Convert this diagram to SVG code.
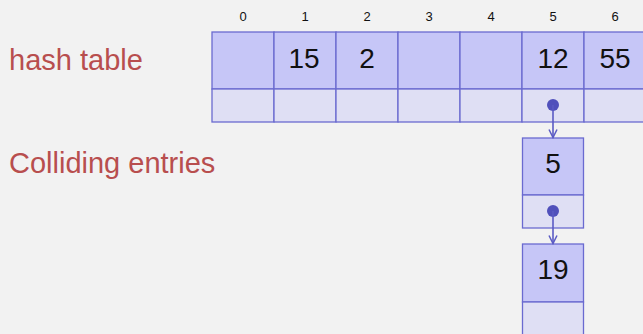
<svg xmlns="http://www.w3.org/2000/svg" width="643" height="334" viewBox="0 0 643 334">
<defs>
<style>
.top{fill:#c6c6f7;stroke:#6a6ad0;stroke-width:1.3}
.bot{fill:#dfdff4;stroke:#6a6ad0;stroke-width:1.3}
.num{font-family:"Liberation Sans",Arial,sans-serif;font-size:28px;fill:#111;text-anchor:middle}
.idx{font-family:"Liberation Sans",Arial,sans-serif;font-size:13px;fill:#111;text-anchor:middle}
.lbl{font-family:"Liberation Sans",Arial,sans-serif;font-size:29px;fill:#b84e4e}
.dot{fill:#5050bb}
.con{stroke:#5a5ac4;stroke-width:1.6;fill:none}
</style>
<marker id="arr" viewBox="0 0 10 10" refX="9" refY="5" markerWidth="10" markerHeight="10" markerUnits="userSpaceOnUse" orient="auto">
<path d="M1,1 L9,5 L1,9" fill="none" stroke="#5a5ac4" stroke-width="1.5"/>
</marker>
</defs>
<rect width="643" height="334" fill="#f2f2f2"/>
<text class="lbl" x="9" y="70">hash table</text>
<text class="lbl" x="9" y="173">Colliding entries</text>
<g id="indices">
<text class="idx" x="243" y="21">0</text>
<text class="idx" x="305" y="21">1</text>
<text class="idx" x="367" y="21">2</text>
<text class="idx" x="429" y="21">3</text>
<text class="idx" x="491" y="21">4</text>
<text class="idx" x="553" y="21">5</text>
<text class="idx" x="615" y="21">6</text>
</g>
<g id="slot0"><rect class="top" x="212" y="32" width="62" height="57"/><rect class="bot" x="212" y="89" width="62" height="33"/></g>
<g id="slot1"><rect class="top" x="274" y="32" width="62" height="57"/><rect class="bot" x="274" y="89" width="62" height="33"/><text class="num" x="304" y="68">15</text></g>
<g id="slot2"><rect class="top" x="336" y="32" width="62" height="57"/><rect class="bot" x="336" y="89" width="62" height="33"/><text class="num" x="367" y="68">2</text></g>
<g id="slot3"><rect class="top" x="398" y="32" width="62" height="57"/><rect class="bot" x="398" y="89" width="62" height="33"/></g>
<g id="slot4"><rect class="top" x="460" y="32" width="62" height="57"/><rect class="bot" x="460" y="89" width="62" height="33"/></g>
<g id="slot5"><rect class="top" x="522" y="32" width="62" height="57"/><rect class="bot" x="522" y="89" width="62" height="33"/><text class="num" x="553" y="68">12</text><circle class="dot" cx="553" cy="105" r="6"/></g>
<g id="slot6"><rect class="top" x="584" y="32" width="62" height="57"/><rect class="bot" x="584" y="89" width="62" height="33"/><text class="num" x="615" y="68">55</text></g>
<g id="entry5"><rect class="top" x="522.5" y="138" width="61" height="57"/><rect class="bot" x="522.5" y="195" width="61" height="33"/><text class="num" x="553" y="173">5</text><circle class="dot" cx="553" cy="211" r="6"/></g>
<g id="entry19"><rect class="top" x="522.5" y="244" width="61" height="58"/><rect class="bot" x="522.5" y="302" width="61" height="40"/><text class="num" x="553" y="279">19</text></g>
<g id="connectors">
<line class="con" x1="553" y1="105" x2="553" y2="137.5" marker-end="url(#arr)"/>
<line class="con" x1="553" y1="211" x2="553" y2="243.5" marker-end="url(#arr)"/>
</g>
</svg>
